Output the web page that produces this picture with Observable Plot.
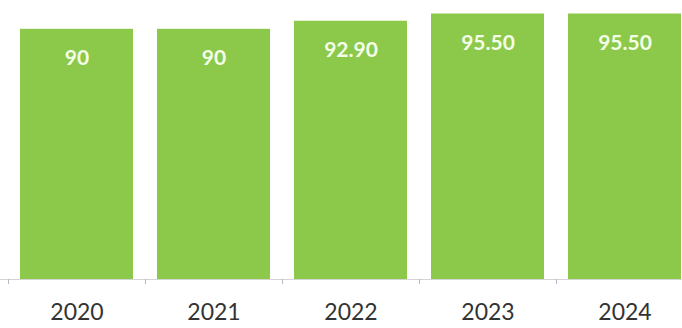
<!DOCTYPE html>
<html>
<head>
<meta charset="utf-8">
<script src="https://cdn.jsdelivr.net/npm/d3@7"></script>
<script src="https://cdn.jsdelivr.net/npm/@observablehq/plot@0.6"></script>
<style>
  html, body { margin: 0; padding: 0; background: #fff; }
</style>
</head>
<body>
<div id="chart"></div>
<script>
const years = ["2020", "2021", "2022", "2023", "2024"];
const values = [90, 90, 92.9, 95.5, 95.5];
const valueLabels = ["90", "90", "92.90", "95.50", "95.50"];

const data = years.map((y, i) => ({ year: y, value: values[i], label: valueLabels[i] }));

const xRange = [8, 693];
const step = (xRange[1] - xRange[0]) / years.length;

const chart = Plot.plot({
  width: 682,
  height: 328,
  marginTop: 1,
  marginBottom: 49,
  marginLeft: 0,
  marginRight: 0,
  style: { fontFamily: "Lato, sans-serif", background: "#fff", overflow: "visible" },
  x: { domain: years, range: xRange, paddingInner: 0.175, paddingOuter: 0.0875, label: null },
  y: { domain: [0, 100], axis: null },
  marks: [
    Plot.barY(data, { x: "year", y: "value", fill: "#8cc84a" }),
    Plot.ruleY([0], { stroke: "#d4d4d4", strokeWidth: 1.2 }),
    Plot.ruleX(data, { x: "year", y1: 0, y2: 0, dx: -step / 2, insetBottom: -5, stroke: "#b8b8c8", strokeWidth: 1 }),
    Plot.text(data, { x: "year", y: "value", text: "label", dy: 29, fill: "#f4ffe8", fontSize: 21, fontWeight: "bold", lineAnchor: "middle" }),
    Plot.axisX({ tickSize: 0, tickPadding: 24, fontSize: 23, color: "#333", label: null })
  ]
});
document.getElementById("chart").appendChild(chart);
</script>
</body>
</html>
